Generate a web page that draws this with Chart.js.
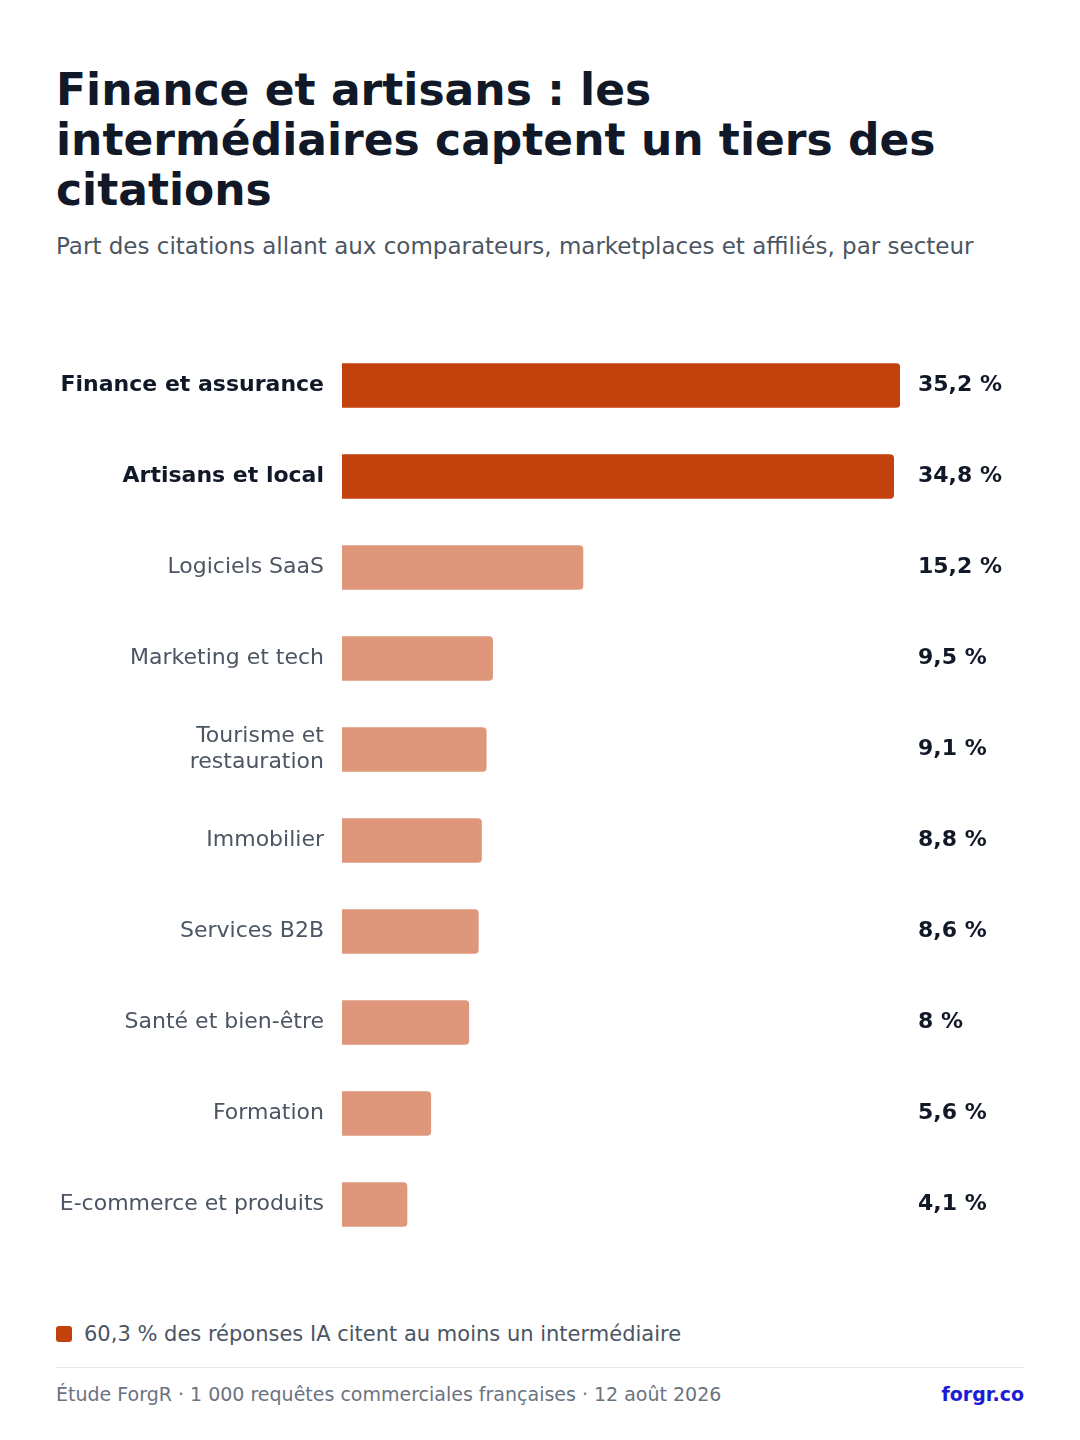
<!DOCTYPE html>
<html lang="fr">
<head>
<meta charset="utf-8">
<title>Finance et artisans : les intermédiaires captent un tiers des citations</title>
<script src="https://cdn.jsdelivr.net/npm/chart.js"></script>
<style>
    html, body { margin: 0; padding: 0; background: #ffffff; }
    body { width: 1080px; height: 1440px; position: relative; font-family: "DejaVu Sans", sans-serif; overflow: hidden; }
    h1 {
        position: absolute; left: 56px; top: 65px; width: 940px; margin: 0;
        font-size: 44px; line-height: 50px; font-weight: bold; color: #111827;
    }
    .subtitle {
        position: absolute; left: 56px; top: 232px; margin: 0;
        font-size: 23px; line-height: 29px; color: #4b5563; white-space: nowrap;
    }
    .chart-box { position: absolute; left: 56px; top: 340px; width: 968px; height: 910px; }
    .note {
        position: absolute; left: 56px; top: 1320px; font-size: 21px; line-height: 28px; color: #4b5563;
        display: flex; align-items: center;
    }
    .note .swatch { width: 16px; height: 16px; border-radius: 3px; background: #c2410c; margin-right: 12px; }
    .rule { position: absolute; left: 56px; top: 1367px; width: 968px; height: 1px; background: #e5e7eb; }
    .footer {
        position: absolute; left: 56px; top: 1381px; width: 968px; font-size: 19px; line-height: 26px;
        color: #6b7280; display: flex; justify-content: space-between;
    }
    .footer a { color: #1c1cd6; font-weight: bold; text-decoration: none; }
</style>
</head>
<body>
<h1>Finance et artisans : les intermédiaires captent un tiers des citations</h1>
<p class="subtitle">Part des citations allant aux comparateurs, marketplaces et affiliés, par secteur</p>
<div class="chart-box"><canvas id="sectorChart"></canvas></div>
<div class="note"><span class="swatch"></span>60,3 % des réponses IA citent au moins un intermédiaire</div>
<div class="rule"></div>
<div class="footer"><span>Étude ForgR · 1 000 requêtes commerciales françaises · 12 août 2026</span><a>forgr.co</a></div>

<script>
// ============================================================
// Données
// ============================================================
const sectors = [
    'Finance et assurance',
    'Artisans et local',
    'Logiciels SaaS',
    'Marketing et tech',
    ['Tourisme et', 'restauration'],
    'Immobilier',
    'Services B2B',
    'Santé et bien-être',
    'Formation',
    'E-commerce et produits'
];
const shares = [35.2, 34.8, 15.2, 9.5, 9.1, 8.8, 8.6, 8, 5.6, 4.1];
// secteurs mis en avant (les deux premiers)
const highlighted = [true, true, false, false, false, false, false, false, false, false];

const DARK = '#c2410c';
const LIGHT = 'rgba(194, 65, 12, 0.55)';

const fmtPct = v => v.toString().replace('.', ',') + ' %';

// étiquettes de valeur à droite de la zone du graphique
const valueLabels = {
    id: 'valueLabels',
    afterDatasetsDraw(chart) {
        const { ctx, chartArea } = chart;
        const meta = chart.getDatasetMeta(0);
        ctx.save();
        ctx.font = 'bold 22px "DejaVu Sans"';
        ctx.fillStyle = '#111827';
        ctx.textAlign = 'left';
        ctx.textBaseline = 'middle';
        meta.data.forEach((bar, i) => {
            ctx.fillText(fmtPct(shares[i]), chartArea.right + 18, bar.y);
        });
        ctx.restore();
    }
};

new Chart(document.getElementById('sectorChart'), {
    type: 'bar',
    data: {
        labels: sectors,
        datasets: [{
            data: shares,
            backgroundColor: highlighted.map(h => h ? DARK : LIGHT),
            borderRadius: 4,
            borderSkipped: 'start',
            barThickness: 44
        }]
    },
    options: {
        indexAxis: 'y',
        responsive: true,
        maintainAspectRatio: false,
        animation: false,
        layout: { padding: { right: 124 } },
        plugins: {
            legend: { display: false },
            tooltip: { enabled: false }
        },
        scales: {
            x: { display: false, min: 0, max: Math.max(...shares) },
            y: {
                grid: { display: false, drawTicks: false },
                border: { display: false },
                afterFit: scale => {
                    scale.width = 286;
                    scale.paddingTop = 0;
                    scale.paddingBottom = 0;
                },
                ticks: {
                    padding: 18,
                    autoSkip: false,
                    font: ctx => ({
                        family: '"DejaVu Sans"',
                        size: 22,
                        lineHeight: 1.2,
                        weight: highlighted[ctx.index] ? 'bold' : 'normal'
                    }),
                    color: ctx => highlighted[ctx.index] ? '#111827' : '#4b5563'
                }
            }
        }
    },
    plugins: [valueLabels]
});
</script>
</body>
</html>
